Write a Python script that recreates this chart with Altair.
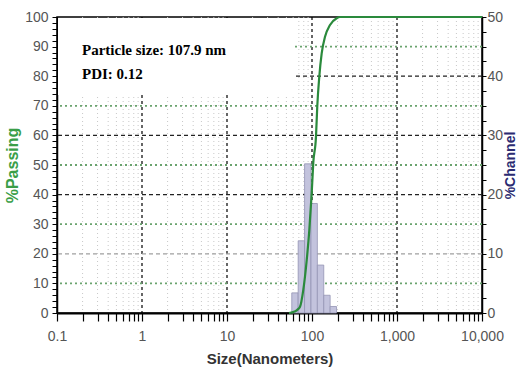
import altair as alt
import pandas as pd

# Channel edges (nm) and % in each channel
bin_lower = [57.81, 68.75, 81.75, 97.22, 115.6, 137.5, 163.5]
bin_upper = [68.75, 81.75, 97.22, 115.6, 137.5, 163.5, 194.5]
pct_channel = [3.4, 12.2, 25.2, 18.5, 8.1, 3.0, 1.1]

# Cumulative % passing curve
curve_size = [53.6, 59.7, 66.6, 72.3, 79.0, 86.7, 93.0, 99.2, 103.5, 111.4,
              115.3, 121.8, 130.0, 142.2, 162.8, 195.3, 213.5, 10000]
pct_passing = [0, 0.3, 1.0, 2.1, 7.8, 17.9, 28.0, 40.5, 50.7, 59.6,
               69.7, 79.8, 87.7, 93.3, 97.3, 99.6, 100, 100]

decades = [0.1, 1, 10, 100, 1000, 10000]
minor_mult = [2, 3, 4, 5, 6, 7, 8, 9]
x_ticks = sorted(decades + [round(m * d, 6) for d in decades[:-1] for m in minor_mult])
minor_lines = [round(m * d, 6) for d in decades[:-1] for m in minor_mult]
major_lines = [1, 10, 100, 1000]

green_grid = [10, 30, 50, 70, 90]
black_grid = [40, 60, 80]
grey_grid = [20]

annot = ["Particle size: 107.9 nm", "PDI: 0.12"]

LABEL_FONT = "Liberation Sans"

xscale = alt.Scale(type="log", domain=[0.1, 10000])
x_axis = alt.Axis(
    values=x_ticks,
    labelExpr="abs(log(datum.value)/LN10 - round(log(datum.value)/LN10)) < 1e-6 ? format(datum.value, ',') : ''",
    title="Size(Nanometers)", titleFont=LABEL_FONT, titleFontSize=15, titleFontWeight="bold",
    titleColor="#333333", titlePadding=8,
    labelFont=LABEL_FONT, labelFontSize=14, labelColor="#555555", labelPadding=8,
    tickSize=8, tickColor="black", tickWidth=1.2, domainColor="black", domainWidth=2,
    grid=False, labelFlush=False, labelOverlap=False,
)

yleft = alt.Scale(domain=[0, 100], nice=False)
yright = alt.Scale(domain=[0, 50], nice=False)

left_axis = alt.Axis(
    orient="left", values=list(range(0, 101, 2)),
    labelExpr="datum.value % 10 == 0 ? datum.label : ''",
    title="%Passing", titleColor="#3a9e48", titleFont=LABEL_FONT, titleFontSize=16,
    titleFontWeight="bold", titlePadding=4,
    labelFont=LABEL_FONT, labelFontSize=14, labelColor="#555555", labelPadding=4,
    labelOverlap=False, labelBound=False,
    tickSize=5, tickColor="black", domainColor="black", domainWidth=1.5, grid=False,
)
right_axis = alt.Axis(
    orient="right", values=[v * 2.5 for v in range(0, 21)],
    labelExpr="datum.value % 10 == 0 ? datum.label : ''",
    title="%Channel", titleColor="#2b2b72", titleFont=LABEL_FONT, titleFontSize=14,
    titleFontWeight="bold", titlePadding=1, titleAngle=270, titleBaseline="top",
    labelFont=LABEL_FONT, labelFontSize=14, labelColor="#555555", labelPadding=1,
    labelOverlap=False, labelBound=False,
    tickSize=4, tickColor="black", domainColor="black", domainWidth=1.5, grid=False,
)

# Grid lines
vminor = alt.Chart(pd.DataFrame({"x": minor_lines})).mark_rule(
    color="#c8c8c8", strokeDash=[1, 3], strokeWidth=1
).encode(x=alt.X("x:Q", scale=xscale, axis=x_axis))
vmajor = alt.Chart(pd.DataFrame({"x": major_lines})).mark_rule(
    color="black", strokeDash=[3, 3], strokeWidth=1.2
).encode(x=alt.X("x:Q", scale=xscale, axis=x_axis))

hgreen = alt.Chart(pd.DataFrame({"y": green_grid})).mark_rule(
    color="#6aa36e", strokeDash=[2, 3], strokeWidth=1.8
).encode(y=alt.Y("y:Q", scale=yleft, axis=left_axis))
hblack = alt.Chart(pd.DataFrame({"y": black_grid})).mark_rule(
    color="#222222", strokeDash=[4, 3], strokeWidth=1.3
).encode(y=alt.Y("y:Q", scale=yleft, axis=left_axis))
hgrey = alt.Chart(pd.DataFrame({"y": grey_grid})).mark_rule(
    color="#a0a0a0", strokeDash=[4, 3], strokeWidth=1.2
).encode(y=alt.Y("y:Q", scale=yleft, axis=left_axis))

# White panel behind the annotation
panel = alt.Chart(pd.DataFrame({"k": [0]})).mark_rect(color="white").encode(
    x=alt.value(1), x2=alt.value(238), y=alt.value(1), y2=alt.value(78)
)

back = alt.layer(vminor, vmajor, hgreen, hblack, hgrey, panel)

bars_df = pd.DataFrame({"lo": bin_lower, "hi": bin_upper, "pct": pct_channel})
bars = alt.Chart(bars_df).mark_rect(
    fill="#c3c3dd", stroke="#9494b4", strokeWidth=0.8
).encode(
    x=alt.X("lo:Q", scale=xscale, axis=x_axis),
    x2="hi:Q",
    y=alt.Y("pct:Q", scale=yright, axis=right_axis),
    y2=alt.datum(0),
)

curve_df = pd.DataFrame({"size": curve_size, "passing": pct_passing})
curve = alt.Chart(curve_df).mark_line(
    color="#2a8a3c", strokeWidth=2.2, interpolate="monotone"
).encode(
    x=alt.X("size:Q", scale=xscale, axis=x_axis),
    y=alt.Y("passing:Q", scale=yleft, axis=None),
)

text_style = dict(font="Liberation Serif", fontSize=15, fontWeight="bold",
                  color="black", align="left", baseline="middle")
text1 = alt.Chart(pd.DataFrame({"t": [annot[0]]})).mark_text(**text_style).encode(
    text="t:N", x=alt.value(25), y=alt.value(33))
text2 = alt.Chart(pd.DataFrame({"t": [annot[1]]})).mark_text(**text_style).encode(
    text="t:N", x=alt.value(25), y=alt.value(57))

front = alt.layer(curve, text1, text2)

chart = alt.layer(back, bars, front).resolve_scale(y="independent").properties(
    width=425, height=296,
    autosize=alt.AutoSizeParams(type="none"),
    padding={"left": 57, "top": 17, "right": 37, "bottom": 59},
    background="white",
).configure_view(stroke="black", strokeWidth=1.5)

chart.save("out.html", embed_options={"renderer": "svg", "actions": False})
